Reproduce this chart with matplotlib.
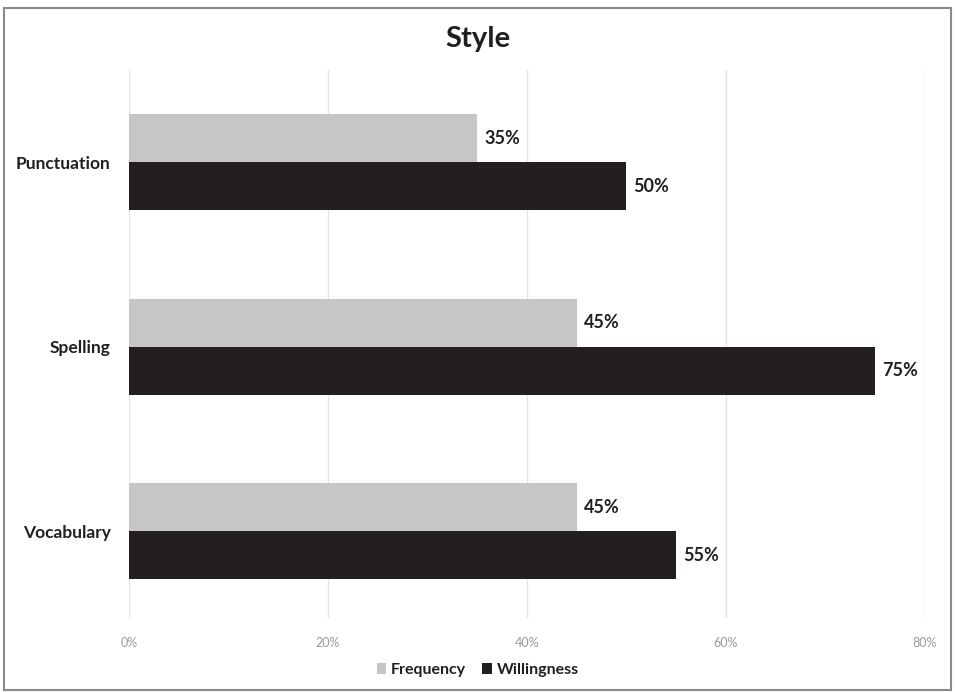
import matplotlib
matplotlib.use("Agg")
from matplotlib import pyplot as plt
from matplotlib.patches import Rectangle
import numpy as np

categories = ["Punctuation", "Spelling", "Vocabulary"]
frequency = [35, 45, 45]
willingness = [50, 75, 55]
xticks = [0, 20, 40, 60, 80]

light = "#c6c6c6"
dark = "#231f20"

plt.rcParams['font.family'] = ['Lato', 'DejaVu Sans']

fig = plt.figure(figsize=(9.55, 6.92), dpi=100)
ax = fig.add_axes([0.135, 0.107, 0.8335, 0.792])

y = np.arange(len(categories))
h = 0.26
ax.barh(y - h / 2, frequency, height=h, color=light, label="Frequency", zorder=2)
ax.barh(y + h / 2, willingness, height=h, color=dark, label="Willingness", zorder=2)

for yi, v in zip(y, frequency):
    ax.text(v + 0.7, yi - h / 2, f"{v}%", va="center", ha="left",
            fontsize=13, fontweight="bold", color="#231f20")
for yi, v in zip(y, willingness):
    ax.text(v + 0.7, yi + h / 2, f"{v}%", va="center", ha="left",
            fontsize=13, fontweight="bold", color="#231f20")

ax.set_xlim(0, 80)
ax.set_ylim(2.47, -0.5)
ax.set_xticks(xticks)
ax.set_xticklabels([f"{t}%" for t in xticks], fontsize=9, color="#9a9a9a")
ax.set_yticks(y)
ax.set_yticklabels(categories, fontsize=12.5, fontweight="bold", color="#231f20")
ax.tick_params(axis="both", length=0)
ax.tick_params(axis="x", pad=14)
ax.tick_params(axis="y", pad=13)
ax.grid(axis="x", color="#e3e3e3", linewidth=1, zorder=0)
for s in ax.spines.values():
    s.set_visible(False)

fig.suptitle("Style", y=0.962, fontsize=21, fontweight="bold", color="#231f20")

leg = fig.legend(loc="center", bbox_to_anchor=(0.5, 0.032), ncol=2, frameon=False,
                 fontsize=11.5, handlelength=0.6, handleheight=0.7, handletextpad=0.3,
                 columnspacing=1.0)
for t in leg.get_texts():
    t.set_fontweight("bold")
    t.set_color("#231f20")

fig.patches.append(Rectangle((0.004, 0.003), 0.992, 0.985, transform=fig.transFigure,
                             fill=False, edgecolor="#8a8a8a", linewidth=1.5))

fig.savefig("out.png", dpi=100)
